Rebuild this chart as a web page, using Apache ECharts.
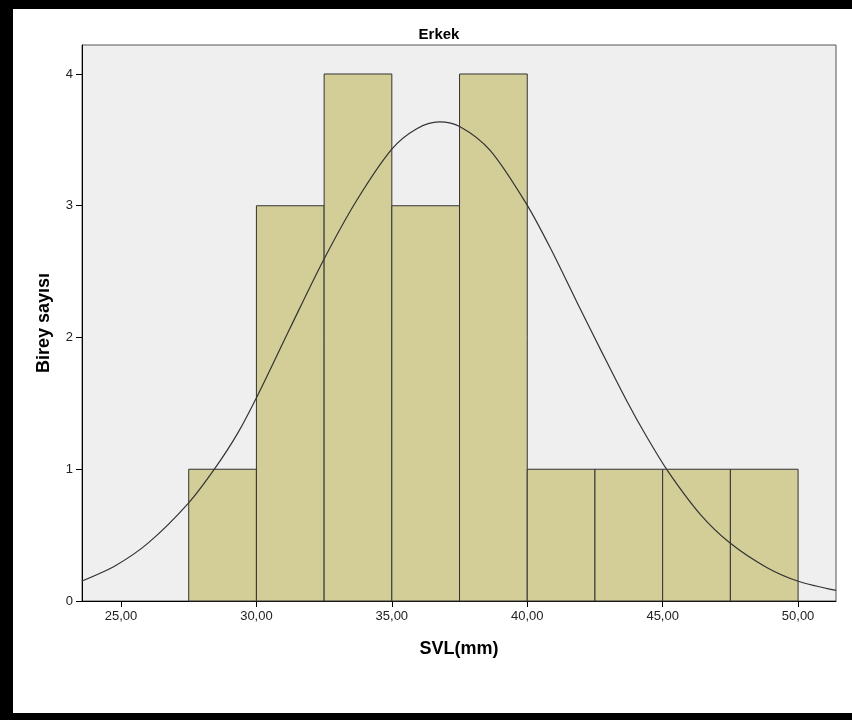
<!DOCTYPE html>
<html>
<head>
<meta charset="utf-8">
<style>
  html, body { margin: 0; padding: 0; background: #fff; }
  #chart { width: 852px; height: 720px; }
</style>
<script src="https://cdn.jsdelivr.net/npm/echarts@6/dist/echarts.min.js"></script>
</head>
<body>
<div id="chart"></div>
<script>
// Histogram bins (SVL in mm) and counts
const binStarts = [27.5, 30, 32.5, 35, 37.5, 40, 42.5, 45, 47.5];
const binEnds   = [30, 32.5, 35, 37.5, 40, 42.5, 45, 47.5, 50];
const counts    = [1, 3, 4, 3, 4, 1, 1, 1, 1];

// Fitted normal curve, sampled points (x, count scale)
const curveX = [23.56, 24.79, 26.02, 27.50, 28.48, 29.30, 30.02, 31.24, 32.47, 33.70, 35.00, 35.92, 36.75, 37.52, 38.63, 39.98, 40.90, 41.83, 42.80, 43.67, 44.40, 45.21, 46.38, 47.49, 48.84, 50.01, 51.40];
const curveY = [0.152, 0.268, 0.443, 0.745, 1.010, 1.270, 1.550, 2.070, 2.585, 3.040, 3.430, 3.585, 3.636, 3.600, 3.420, 3.010, 2.660, 2.270, 1.870, 1.520, 1.250, 0.980, 0.660, 0.440, 0.255, 0.150, 0.080];

// Axis ticks and labels
const xTicks = [25, 30, 35, 40, 45, 50];
const yTicks = [0, 1, 2, 3, 4];

const chart = echarts.init(document.getElementById('chart'), null, { renderer: 'canvas' });

const barData = binStarts.map((s, i) => [s, binEnds[i], counts[i]]);
const lineData = curveX.map((x, i) => [x, curveY[i]]);

const labelFont = '"Liberation Sans", Arial, sans-serif';

chart.setOption({
  animation: false,
  backgroundColor: '#ffffff',
  title: {
    text: 'Erkek',
    left: 434,
    top: 22,
    textAlign: 'center',
    textStyle: { fontFamily: '"Liberation Sans Narrow", "Liberation Sans", Arial, sans-serif', fontWeight: 'bold', fontSize: 15, color: '#000' }
  },
  grid: {
    left: 82, top: 45, right: 16, bottom: 119,
    show: true,
    backgroundColor: '#efefef',
    borderColor: '#555',
    borderWidth: 1
  },
  xAxis: {
    type: 'value',
    min: 23.56,
    max: 51.40,
    name: 'SVL(mm)',
    nameLocation: 'middle',
    nameGap: 39,
    nameTextStyle: { fontFamily: labelFont, fontWeight: 'bold', fontSize: 18, color: '#000' },
    splitLine: { show: false },
    axisLine: { show: true, onZero: false, lineStyle: { color: '#000', width: 1 } },
    axisTick: { show: true, length: 6, customValues: xTicks, lineStyle: { color: '#000' } },
    axisLabel: {
      customValues: xTicks,
      margin: 9,
      fontFamily: labelFont, fontSize: 13, color: '#222',
      formatter: v => v.toFixed(2).replace('.', ',')
    }
  },
  yAxis: {
    type: 'value',
    min: 0,
    max: 4.22,
    name: 'Birey sayısı',
    nameLocation: 'middle',
    nameGap: 29,
    nameRotate: 90,
    nameTextStyle: { fontFamily: labelFont, fontWeight: 'bold', fontSize: 18, color: '#000' },
    splitLine: { show: false },
    axisLine: { show: true, lineStyle: { color: '#000', width: 1 } },
    axisTick: { show: true, length: 6, customValues: yTicks, lineStyle: { color: '#000' } },
    axisLabel: {
      customValues: yTicks,
      margin: 9,
      fontFamily: labelFont, fontSize: 13, color: '#222',
      formatter: v => String(v)
    }
  },
  series: [
    {
      type: 'custom',
      name: 'bins',
      data: barData,
      encode: { x: [0, 1], y: 2 },
      renderItem: function (params, api) {
        const p0 = api.coord([api.value(0), api.value(2)]);
        const p1 = api.coord([api.value(1), 0]);
        return {
          type: 'rect',
          shape: { x: p0[0], y: p0[1], width: p1[0] - p0[0], height: p1[1] - p0[1] },
          style: { fill: '#d3ce98', stroke: '#333', lineWidth: 1 }
        };
      },
      z: 2
    },
    {
      type: 'line',
      name: 'normal',
      data: lineData,
      smooth: 0.3,
      showSymbol: false,
      symbol: 'none',
      lineStyle: { color: '#333', width: 1.2 },
      z: 3
    }
  ],
  graphic: [
    { type: 'rect', shape: { x: 0, y: 0, width: 852, height: 9 }, style: { fill: '#000' }, z: 100 },
    { type: 'rect', shape: { x: 0, y: 0, width: 13, height: 720 }, style: { fill: '#000' }, z: 100 },
    { type: 'rect', shape: { x: 0, y: 713, width: 852, height: 7 }, style: { fill: '#000' }, z: 100 }
  ]
});
</script>
</body>
</html>
